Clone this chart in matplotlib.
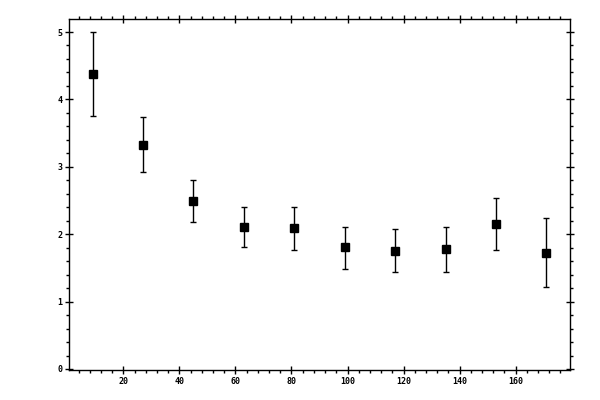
import matplotlib

matplotlib.use("Agg")
import matplotlib.pyplot as plt
from matplotlib.ticker import MultipleLocator

# bin centres and measured values with asymmetric error bars
x_vals = [9, 27, 45, 63, 81, 99, 117, 135, 153, 171]
y_vals = [4.38, 3.32, 2.49, 2.10, 2.09, 1.81, 1.75, 1.78, 2.15, 1.72]
y_upper = [5.00, 3.74, 2.81, 2.40, 2.40, 2.11, 2.08, 2.10, 2.54, 2.24]
y_lower = [3.75, 2.92, 2.18, 1.81, 1.76, 1.48, 1.44, 1.44, 1.76, 1.21]

err_lo = [y - lo for y, lo in zip(y_vals, y_lower)]
err_hi = [hi - y for y, hi in zip(y_vals, y_upper)]

plt.rcParams["font.family"] = ["DejaVu Sans Mono"]

fig = plt.figure(figsize=(6, 4), dpi=100)
ax = fig.add_axes([0.1155, 0.075, 0.835, 0.877])

ax.errorbar(
    x_vals, y_vals, yerr=[err_lo, err_hi],
    fmt="s", color="black", markersize=6, elinewidth=1.0,
    capsize=2.5, capthick=1.0, ecolor="black",
)

ax.set_xlim(0.7, 179.5)
ax.set_ylim(-0.015, 5.19)
ax.xaxis.set_major_locator(MultipleLocator(20))
ax.xaxis.set_minor_locator(MultipleLocator(4))
ax.yaxis.set_major_locator(MultipleLocator(1))
ax.yaxis.set_minor_locator(MultipleLocator(0.2))
ax.set_xticks([20, 40, 60, 80, 100, 120, 140, 160])

for side in ax.spines.values():
    side.set_linewidth(1.0)

ax.tick_params(which="major", direction="inout", length=6, width=1.0,
               top=True, right=True, labelsize=6, pad=2)
ax.tick_params(which="minor", direction="out", length=2.5, width=1.0,
               top=True, right=True)
for lab in ax.get_xticklabels() + ax.get_yticklabels():
    lab.set_fontweight("bold")

fig.savefig("out.png", dpi=100)
